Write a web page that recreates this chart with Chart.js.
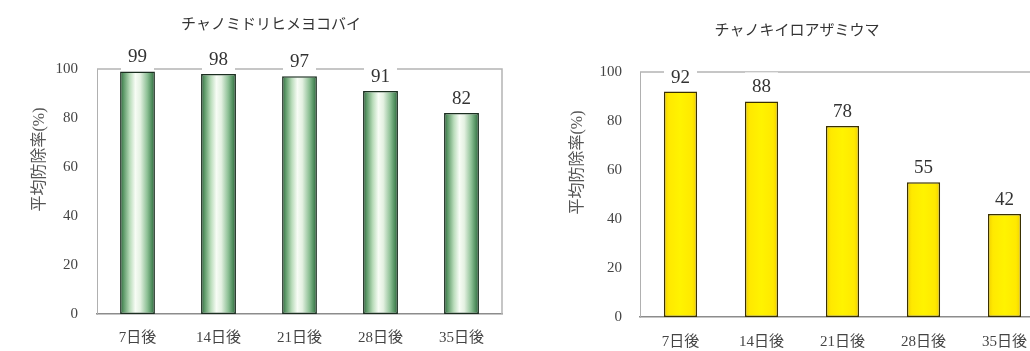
<!DOCTYPE html>
<html>
<head>
<meta charset="utf-8">
<script src="https://cdn.jsdelivr.net/npm/chart.js@4/dist/chart.umd.min.js"></script>
<style>
  html, body { margin: 0; padding: 0; background: #fff; width: 1030px; height: 351px; overflow: hidden; position: relative; }
  canvas { position: absolute; top: 0; }
  #leafhopper { left: 0; }
  #thrips { left: 520px; }
</style>
</head>
<body>
<canvas id="leafhopper" width="520" height="351"></canvas>
<canvas id="thrips" width="530" height="351"></canvas>
<script>
// Days after spraying
const days = ['7日後', '14日後', '21日後', '28日後', '35日後'];
// Mean control rate (%) per pest
const leafhopperRates = [99, 98, 97, 91, 82];
const thripsRates = [92, 88, 78, 55, 42];
// Value axis
const yMin = 0;
const yMax = 100;
const yStep = 20;

const leafhopperTitle = 'チャノミドリヒメヨコバイ';
const thripsTitle = 'チャノキイロアザミウマ';
const yAxisTitle = '平均防除率(%)';

const SERIF = '"Liberation Serif", "DejaVu Serif", "Noto Sans CJK JP", serif';
Chart.defaults.font.family = SERIF;
Chart.defaults.color = '#444';

// cylinder-like shading for the green bars, yellow is nearly flat
const greenStops = [
  [0, '#2c663b'], [0.1, '#5d9968'], [0.28, '#b9dcba'], [0.44, '#f7fcf5'],
  [0.58, '#e4f1e2'], [0.78, '#8dc095'], [0.92, '#4b8a59'], [1, '#2a6038']
];
const yellowStops = [
  [0, '#efcf00'], [0.15, '#ffe900'], [0.5, '#fff300'], [0.85, '#ffe900'], [1, '#efcf00']
];

function barFill(stops, barPct) {
  return (context) => {
    const chart = context.chart;
    const x = chart.scales.x;
    if (!chart.chartArea || !x || context.dataIndex === undefined) return stops[3][1];
    const band = x.width / chart.data.labels.length;
    const bw = band * barPct;
    const cx = x.getPixelForValue(context.dataIndex);
    const g = chart.ctx.createLinearGradient(cx - bw / 2, 0, cx + bw / 2, 0);
    stops.forEach(([o, c]) => g.addColorStop(o, c));
    return g;
  };
}

// top and right edges of the plot frame
const plotFrame = {
  id: 'plotFrame',
  beforeDatasetsDraw(chart) {
    const { ctx, chartArea: a } = chart;
    ctx.save();
    ctx.strokeStyle = '#b4b4b4';
    ctx.lineWidth = 1.5;
    ctx.beginPath();
    ctx.moveTo(a.left, a.top);
    ctx.lineTo(a.right, a.top);
    ctx.lineTo(a.right, a.bottom);
    ctx.stroke();
    ctx.restore();
  }
};

// value labels on white boxes above each bar
const valueLabels = {
  id: 'valueLabels',
  afterDatasetsDraw(chart) {
    const { ctx } = chart;
    const meta = chart.getDatasetMeta(0);
    const values = chart.data.datasets[0].data;
    ctx.save();
    ctx.font = '19px ' + SERIF;
    ctx.textAlign = 'center';
    ctx.textBaseline = 'middle';
    meta.data.forEach((bar, i) => {
      const text = String(values[i]);
      const w = ctx.measureText(text).width + 14;
      const cy = bar.y - 15;
      ctx.fillStyle = '#ffffff';
      ctx.fillRect(bar.x - w / 2, cy - 14, w, 28);
      ctx.fillStyle = '#333';
      ctx.fillText(text, bar.x, cy + 1);
    });
    ctx.restore();
  }
};

function makeChart(id, opts) {
  return new Chart(document.getElementById(id), {
    type: 'bar',
    data: {
      labels: days,
      datasets: [{
        data: opts.values,
        backgroundColor: barFill(opts.stops, opts.barPct),
        borderColor: opts.edge,
        borderWidth: 1.5,
        borderSkipped: false,
        categoryPercentage: 1,
        barPercentage: opts.barPct
      }]
    },
    options: {
      responsive: false,
      animation: false,
      events: [],
      layout: { padding: { left: opts.padLeft, right: opts.padRight, top: 0, bottom: 0 } },
      plugins: {
        legend: { display: false },
        tooltip: { enabled: false },
        title: {
          display: true,
          text: opts.title,
          color: '#333',
          font: { size: 15, weight: 'normal' },
          padding: { top: opts.titleTop, bottom: opts.titleBottom }
        }
      },
      scales: {
        x: {
          grid: { display: false, drawTicks: false },
          border: { display: true, color: '#8c8c8c', width: 1.5 },
          ticks: { font: { size: 15 }, color: '#444', padding: opts.xTickPad, maxRotation: 0 },
          afterFit(scale) { scale.height = opts.xHeight; }
        },
        y: {
          min: yMin,
          max: yMax,
          grid: { display: false, drawTicks: false },
          border: { display: true, color: '#b0b0b0', width: 1 },
          ticks: { stepSize: yStep, font: { size: 15 }, color: '#444', padding: opts.yTickPad },
          title: {
            display: true,
            text: '\u3000\u3000\u3000\u3000' + yAxisTitle,
            color: '#555',
            font: { size: 16 },
            padding: { top: opts.yTitlePad, bottom: 0 }
          },
          afterFit(scale) { scale.width = opts.yWidth; }
        }
      }
    },
    plugins: [plotFrame, valueLabels]
  });
}

makeChart('leafhopper', {
  title: leafhopperTitle,
  values: leafhopperRates,
  stops: greenStops,
  edge: '#1b2e20',
  barPct: 0.43,
  padLeft: 40, padRight: 18,
  titleTop: 16.5, titleBottom: 34.5,
  yWidth: 57, yTitlePad: -9.5, yTickPad: 19,
  xHeight: 37, xTickPad: 15
});

makeChart('thrips', {
  title: thripsTitle,
  values: thripsRates,
  stops: yellowStops,
  edge: '#3a3000',
  barPct: 0.41,
  padLeft: 29, padRight: 5,
  titleTop: 22.5, titleBottom: 31.5,
  yWidth: 91, yTitlePad: 19, yTickPad: 18,
  xHeight: 34, xTickPad: 16
});
</script>
</body>
</html>
